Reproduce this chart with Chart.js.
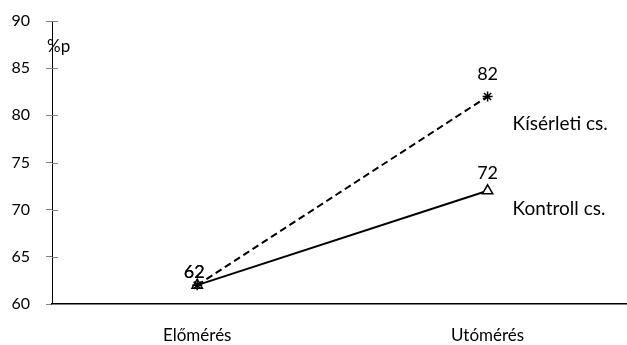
<!DOCTYPE html>
<html>
<head>
<meta charset="utf-8">
<script src="https://cdn.jsdelivr.net/npm/chart.js@4.4.1/dist/chart.umd.min.js"></script>
<style>
  html, body { margin: 0; padding: 0; background: #fff; }
  #wrap { width: 627px; height: 345px; position: relative; }
</style>
</head>
<body>
<div id="wrap"><canvas id="c" width="627" height="345"></canvas></div>
<script>
// Measurement points and group results (%p)
const categories = ['Előmérés', 'Utómérés'];
const kiserletiValues = [62, 82];
const kontrollValues = [62, 72];
const seriesNames = ['Kísérleti cs.', 'Kontroll cs.'];
const yTicks = [60, 65, 70, 75, 80, 85, 90];
const unitLabel = '%p';

const FONT = 'Lato, "Open Sans", sans-serif';

const toPoints = vals => vals.map((v, i) => ({ x: i, y: v }));

// Value labels above points and series names beside the last point
const annotate = {
  id: 'annotate',
  afterDatasetsDraw(chart) {
    const ctx = chart.ctx;
    ctx.save();
    ctx.fillStyle = '#000';
    chart.data.datasets.forEach((ds, di) => {
      const meta = chart.getDatasetMeta(di);
      ctx.font = '18px ' + FONT;
      ctx.textAlign = 'center';
      ctx.textBaseline = 'middle';
      meta.data.forEach((pt, i) => {
        const off = ds.valueLabelOffsets[i];
        ctx.fillText(String(ds.data[i].y), pt.x + off[0], pt.y + off[1]);
      });
      const last = meta.data[meta.data.length - 1];
      ctx.font = '19px ' + FONT;
      ctx.textAlign = 'left';
      ctx.fillText(ds.label, last.x + ds.nameOffset[0], last.y + ds.nameOffset[1]);
    });
    ctx.restore();
  },
  afterDraw(chart) {
    const ctx = chart.ctx;
    const ys = chart.scales.y;
    const left = chart.chartArea.left;
    ctx.save();
    // inner half of the crossing tick marks
    ctx.strokeStyle = '#808080';
    ctx.lineWidth = 1;
    yTicks.forEach(v => {
      const py = Math.round(ys.getPixelForValue(v)) + 0.5;
      ctx.beginPath();
      ctx.moveTo(left, py);
      ctx.lineTo(left + 6, py);
      ctx.stroke();
    });
    // unit caption
    ctx.fillStyle = '#000';
    ctx.font = '17px ' + FONT;
    ctx.textAlign = 'left';
    ctx.textBaseline = 'middle';
    ctx.fillText(unitLabel, left - 5, ys.getPixelForValue(87.3));
    ctx.restore();
  }
};

new Chart(document.getElementById('c'), {
  type: 'line',
  data: {
    datasets: [
      {
        label: seriesNames[0],
        data: toPoints(kiserletiValues),
        borderColor: '#000',
        borderWidth: 2,
        borderDash: [7, 4],
        pointStyle: 'star',
        pointRadius: 5,
        pointBorderWidth: 1.5,
        pointBorderColor: '#000',
        pointBackgroundColor: '#000',
        valueLabelOffsets: [[-3, -13], [0, -22]],
        nameOffset: [25, 27]
      },
      {
        label: seriesNames[1],
        data: toPoints(kontrollValues),
        borderColor: '#000',
        borderWidth: 2,
        pointStyle: 'triangle',
        pointRadius: 6,
        pointBorderWidth: 1.5,
        pointBorderColor: '#000',
        pointBackgroundColor: '#fff',
        valueLabelOffsets: [[-3, -13], [0, -18]],
        nameOffset: [25, 18]
      }
    ]
  },
  options: {
    responsive: false,
    animation: false,
    layout: { autoPadding: false, padding: { top: 21, right: 0, left: 0, bottom: 0 } },
    plugins: {
      legend: { display: false },
      tooltip: { enabled: false }
    },
    scales: {
      x: {
        type: 'linear',
        min: -0.5,
        max: 1.48,
        afterBuildTicks(scale) {
          scale.ticks = categories.map((_, i) => ({ value: i }));
        },
        afterFit(scale) {
          scale.height = 41;
          scale.paddingLeft = 0;
          scale.paddingRight = 0;
        },
        ticks: {
          autoSkip: false,
          maxRotation: 0,
          padding: 21,
          color: '#000',
          font: { family: FONT, size: 17 },
          callback: v => categories[v]
        },
        grid: { display: false, drawTicks: false },
        border: { display: true, color: '#000', width: 1.5 }
      },
      y: {
        min: 60,
        max: 90,
        afterBuildTicks(scale) {
          scale.ticks = yTicks.map(v => ({ value: v }));
        },
        afterFit(scale) {
          scale.width = 52;
          scale.paddingTop = 0;
          scale.paddingBottom = 0;
        },
        ticks: {
          padding: 16,
          color: '#000',
          font: { family: FONT, size: 16 }
        },
        grid: {
          display: true,
          drawOnChartArea: false,
          drawTicks: true,
          tickLength: 6,
          color: '#808080',
          lineWidth: 1
        },
        border: { display: true, color: '#000', width: 1 }
      }
    }
  },
  plugins: [annotate]
});
</script>
</body>
</html>
